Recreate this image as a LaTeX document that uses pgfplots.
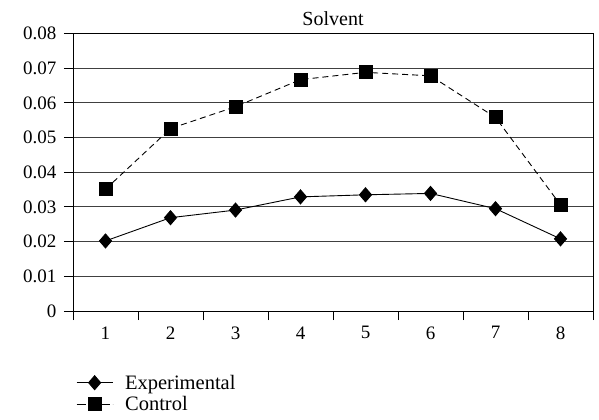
\documentclass[border=0pt]{standalone}
\usepackage{fontspec}
\setmainfont{Liberation Serif}
\usepackage{pgfplots}
\pgfplotsset{compat=1.18}
\newcommand{\tk}[1]{\mbox{\fontsize{19bp}{21bp}\selectfont #1}}
\begin{document}
\begin{tikzpicture}[x=1bp,y=1bp]
\path[use as bounding box] (-73,-108) rectangle (526,311);
\begin{axis}[
  at={(0,0)}, anchor=south west,
  scale only axis, width=520bp, height=277.5bp,
  xmin=0.5, xmax=8.5, ymin=0, ymax=0.08,
  scaled y ticks=false,
  axis line style={black, line width=1pt},
  xtick={1,2,3,4,5,6,7,8},
  xticklabels={\tk{1},\tk{2},\tk{3},\tk{4},\tk{5},\tk{6},\tk{7},\tk{8}},
  x tick style={draw=none},
  extra x ticks={0.5,1.5,2.5,3.5,4.5,5.5,6.5,7.5,8.5},
  extra x tick labels={},
  extra x tick style={x tick style={draw=black, line width=1pt}, major tick length=9bp, tick align=outside},
  ytick={0,0.01,0.02,0.03,0.04,0.05,0.06,0.07,0.08},
  yticklabels={\tk{0},\tk{0.01},\tk{0.02},\tk{0.03},\tk{0.04},\tk{0.05},\tk{0.06},\tk{0.07},\tk{0.08}},
  y tick style={black, line width=1pt},
  major tick length=9bp, tick align=outside,
  xtick pos=bottom, ytick pos=left,
  ymajorgrids, grid style={black!75, line width=1pt},
  yticklabel style={xshift=-4bp},
  xticklabel style={yshift=-3bp},
  title={Solvent},
  title style={font=\fontsize{20bp}{23bp}\selectfont, yshift=-1.5bp},
  legend style={draw=none, fill=none, at={(0,-0.215)}, anchor=north west,
    font=\fontsize{20.5bp}{23bp}\selectfont, row sep=2bp,
    /tikz/every odd column/.append style={column sep=10bp}},
  legend cell align=left,
  legend image code/.code={\draw[mark repeat=2,mark phase=2,#1] plot coordinates {(0bp,0bp) (18bp,0bp) (36bp,0bp)};},
]
\addplot[black, line width=0.9pt, mark=diamond*, mark size=7bp, mark options={solid, xscale=1.15}] coordinates {
(1,0.0202) (2,0.0269) (3,0.0291) (4,0.0329) (5,0.0335) (6,0.0339) (7,0.0295) (8,0.0208)};
\addlegendentry{Experimental}
\addplot[black, line width=0.9pt, dash pattern=on 6bp off 4bp, mark=square*, mark size=6.5bp, mark options={solid},
  legend image post style={dash pattern=on 9bp off 3bp}] coordinates {
(1,0.0351) (2,0.0526) (3,0.0589) (4,0.0667) (5,0.0688) (6,0.0678) (7,0.0558) (8,0.0306)};
\addlegendentry{Control}
\end{axis}
\end{tikzpicture}
\end{document}
